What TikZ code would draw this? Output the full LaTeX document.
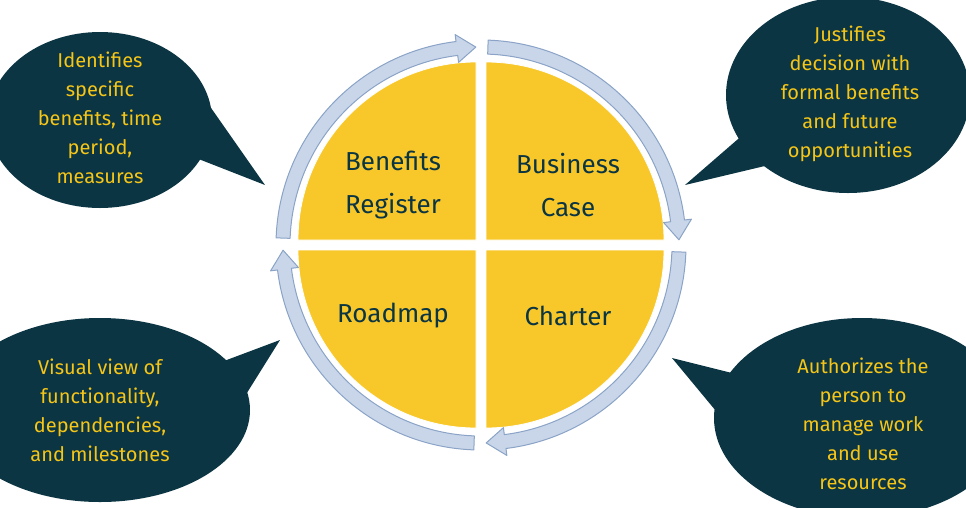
\documentclass[tikz,border=0pt]{standalone}
\usepackage{fontspec}
\setmainfont{Fira Sans}
\usetikzlibrary{calc}
\definecolor{bub}{HTML}{0B3543}
\definecolor{btxt}{HTML}{F5C518}
\definecolor{quad}{HTML}{F8C82A}
\definecolor{ringf}{HTML}{C9D6EA}
\definecolor{ringd}{HTML}{8AA3C6}
\begin{document}
\begin{tikzpicture}[x=1pt,y=1pt,
  btext/.style={text=btxt,align=center,font=\fontsize{20}{29}\selectfont},
  qtext/.style={text=bub,align=center,font=\fontsize{26}{43}\selectfont},
  bubble/.style={fill=bub},
  quadf/.style={fill=quad,draw=white,line width=0.8pt},
  ringp/.style={fill=ringf,draw=ringd,line width=1pt,line join=round}]
\useasboundingbox (0,0) rectangle (966,-507);
\clip (0,0) rectangle (966,-507);
\coordinate (C) at (481,-245);
% bubbles
\fill[bubble] (100,-120) ellipse[x radius=112,y radius=88];
\fill[bubble] (150,-140) -- (265,-185) -- (195,-85) -- cycle;
\fill[bubble] (848,-95) ellipse[x radius=122,y radius=98];
\fill[bubble] (760,-120) -- (685,-185) -- (790,-160) -- cycle;
\fill[bubble] (100,-410) ellipse[x radius=150,y radius=92];
\fill[bubble] (200,-370) -- (280,-340) -- (230,-420) -- cycle;
\fill[bubble] (862,-418) ellipse[x radius=148,y radius=100];
\fill[bubble] (760,-380) -- (672,-358) -- (740,-440) -- cycle;
\node[btext] (t1) at (100,-118) {Identifies\\specific\\benefits, time\\period,\\measures};
\node[btext] (t2) at (850,-94) {Justifies\\decision with\\formal benefits\\and future\\opportunities};
\node[btext] (t3) at (100,-410) {Visual view of\\functionality,\\dependencies,\\and milestones};
\node[btext] (t4) at (863,-424) {Authorizes the\\person to\\manage work\\and use\\resources};
% quadrants
\foreach \a/\dx/\dy in {90/-5/5,0/5/5,270/5/-5,180/-5/-5}{
  \fill[quadf] ($(C)+(\dx,\dy)$) -- +(\a:178) arc[start angle=\a,end angle=\a+90,radius=178] -- cycle;
}
% ring arrows
\foreach \s in {178,88,-2,-92}{
  \pgfmathsetmacro{\e}{\s-81}
  \pgfmathsetmacro{\t}{\s-86.5}
  \draw[ringp] ([shift={(C)}]\s:191) arc[start angle=\s,end angle=\e,radius=191]
    -- ([shift={(C)}]\e:184) -- ([shift={(C)}]\t:198) -- ([shift={(C)}]\e:212)
    -- ([shift={(C)}]\e:205) arc[start angle=\e,end angle=\s,radius=205] -- cycle;
}
\node[qtext] (q1) at (393,-185) {Benefits\\Register};
\node[qtext] (q2) at (568,-185) {Business\\Case};
\node[qtext] (q3) at (393,-316) {Roadmap};
\node[qtext] (q4) at (568,-316) {Charter};
\end{tikzpicture}
\end{document}
